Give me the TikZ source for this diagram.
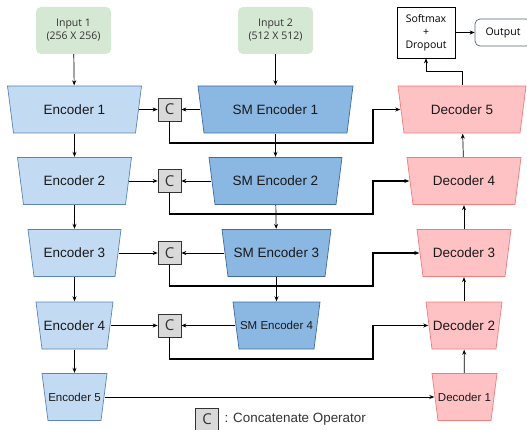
\documentclass[tikz,border=0pt]{standalone}
\usepackage{fontspec}
\setmainfont{Liberation Sans}
\newfontfamily\uifont{Open Sans}
\usetikzlibrary{arrows.meta,positioning}
\definecolor{infill}{HTML}{D5E8D4}
\definecolor{encfill}{HTML}{C2DAF2}
\definecolor{encline}{HTML}{5B85B5}
\definecolor{smfill}{HTML}{8BB7E3}
\definecolor{smline}{HTML}{3F6B9E}
\definecolor{decfill}{HTML}{FFC2C4}
\definecolor{decline}{HTML}{F07C7C}
\definecolor{catfill}{HTML}{D9D9D9}
\definecolor{outborder}{HTML}{56627C}
\begin{document}
\begin{tikzpicture}[x=1pt,y=-1pt,>={Stealth[length=5pt,width=4pt]},
		trap/.style 2 args={rectangle,minimum height=48pt,inner sep=0pt,text=black!90,
			font=\fontsize{13.5}{15}\selectfont,
			path picture={\filldraw[fill=#1,draw=#2,line width=0.7pt]
				([shift={(0.5pt,-0.5pt)}]path picture bounding box.north west) --
				([shift={(-0.5pt,-0.5pt)}]path picture bounding box.north east) --
				([shift={(-6.5pt,0.5pt)}]path picture bounding box.south east) --
				([shift={(6.5pt,0.5pt)}]path picture bounding box.south west) -- cycle;}},
		small/.style={font=\fontsize{11.5}{13}\selectfont},
		enc/.style={trap={encfill}{encline}},
		smenc/.style={trap={smfill}{smline}},
		dec/.style={trap={decfill}{decline}},
		inbox/.style={rectangle,rounded corners=5pt,fill=infill,minimum width=75pt,minimum height=47pt,
			align=center,text=black!80,font=\uifont\fontsize{10.5}{13}\selectfont},
		cat/.style={rectangle,draw=black!80,fill=catfill,minimum size=23pt,inner sep=0pt,line width=0.7pt,
			text=black!80,font=\uifont\fontsize{15}{15}\selectfont},
		link/.style={->,line width=0.7pt},
		skiplink/.style={->,line width=1.8pt}]
		\useasboundingbox (0,0) rectangle (527,430);
		\node[inbox] (in1) at (73.5,30.5) {Input 1\\(256 X 256)};
		\node[inbox] (in2) at (275.5,30.5) {Input 2\\(512 X 512)};
		\node[enc,minimum width=135pt] (enc1) at (74.5,109.5) {Encoder 1};
		\node[enc,minimum width=115pt] (enc2) at (74.5,181) {Encoder 2};
		\node[enc,minimum width=94pt] (enc3) at (74.5,253) {Encoder 3};
		\node[enc,minimum width=78pt] (enc4) at (74.5,325.5) {Encoder 4};
		\node[enc,small,minimum width=66pt] (enc5) at (74.5,397) {Encoder 5};
		\node[smenc,minimum width=156pt] (sm1) at (275.5,109.5) {SM Encoder 1};
		\node[smenc,minimum width=134pt] (sm2) at (275.5,181) {SM Encoder 2};
		\node[smenc,minimum width=110pt] (sm3) at (276.5,253) {SM Encoder 3};
		\node[smenc,small,minimum width=88pt] (sm4) at (276.5,325.5) {SM Encoder 4};
		\node[cat] (c1) at (169.5,109.5) {C};
		\node[cat] (c2) at (169.5,181) {C};
		\node[cat] (c3) at (169.5,253) {C};
		\node[cat] (c4) at (169.5,325.5) {C};
		\node[dec,minimum width=129pt] (dec5) at (462,109.5) {Decoder 5};
		\node[dec,minimum width=115pt] (dec4) at (464,181) {Decoder 4};
		\node[dec,minimum width=95pt] (dec3) at (464,253) {Decoder 3};
		\node[dec,minimum width=77pt] (dec2) at (464,325.5) {Decoder 2};
		\node[dec,small,minimum width=66pt] (dec1) at (464.5,397) {Decoder 1};
		\node[draw,line width=0.7pt,minimum width=58pt,minimum height=51pt,align=center,
			font=\uifont\fontsize{10.5}{13}\selectfont] (soft) at (426,32.5) {Softmax\\+\\Dropout};
		\node[draw=outborder,rounded corners=5pt,line width=0.7pt,minimum width=56pt,minimum height=27pt,
			font=\uifont\fontsize{10.5}{13}\selectfont] (out) at (503,32.5) {Output};
		\node[cat] (lgd) at (207,419.5) {C};
		\node[anchor=west,font=\fontsize{13.4}{15}\selectfont,text=black!80] (lgdtext) at (221,419.5) {: Concatenate Operator};
		\coordinate (jx) at (373,0);
		\draw[link] (in1) -- (enc1);
		\draw[link] (enc1) -- (enc2);
		\draw[link] (enc2) -- (enc3);
		\draw[link] (enc3) -- (enc4);
		\draw[link] (enc4) -- (enc5);
		\draw[link] (in2) -- (sm1);
		\draw[link] (sm1) -- (sm2);
		\draw[link] (sm2) -- (sm3);
		\draw[link] (sm3) -- (sm4);
		\draw[link] ([xshift=-3pt]enc1.east) -- (c1);
		\draw[link] ([xshift=-3pt]enc2.east) -- (c2);
		\draw[link] ([xshift=-3pt]enc3.east) -- (c3);
		\draw[link] ([xshift=-3pt]enc4.east) -- (c4);
		\draw[link] ([xshift=3pt]sm1.west) -- (c1);
		\draw[link] ([xshift=3pt]sm2.west) -- (c2);
		\draw[link] ([xshift=3pt]sm3.west) -- (c3);
		\draw[link] ([xshift=3pt]sm4.west) -- (c4);
		\draw[skiplink] (c1.south) -- ++(0,21.5) -| (jx |- dec5.west) -- ([xshift=3pt]dec5.west);
		\draw[skiplink] (c2.south) -- ++(0,21.5) -| (jx |- dec4.west) -- ([xshift=3pt]dec4.west);
		\draw[skiplink] (c3.south) -- ++(0,21.5) -| (jx |- dec3.west) -- ([xshift=3pt]dec3.west);
		\draw[skiplink] (c4.south) -- ++(0,21.5) -| (jx |- dec2.west) -- ([xshift=3pt]dec2.west);
		\draw[link] ([xshift=-3pt]enc5.east) -- ([xshift=3pt]dec1.west);
		\draw[link] (dec1) -- (dec2);
		\draw[link] (dec2) -- (dec3);
		\draw[link] (dec3) -- (dec4);
		\draw[link] (dec4) -- (dec5);
		\draw[link] (dec5.north) -- ++(0,-14) -| (soft.south);
		\draw[link] (soft) -- (out);
\end{tikzpicture}
\end{document}
